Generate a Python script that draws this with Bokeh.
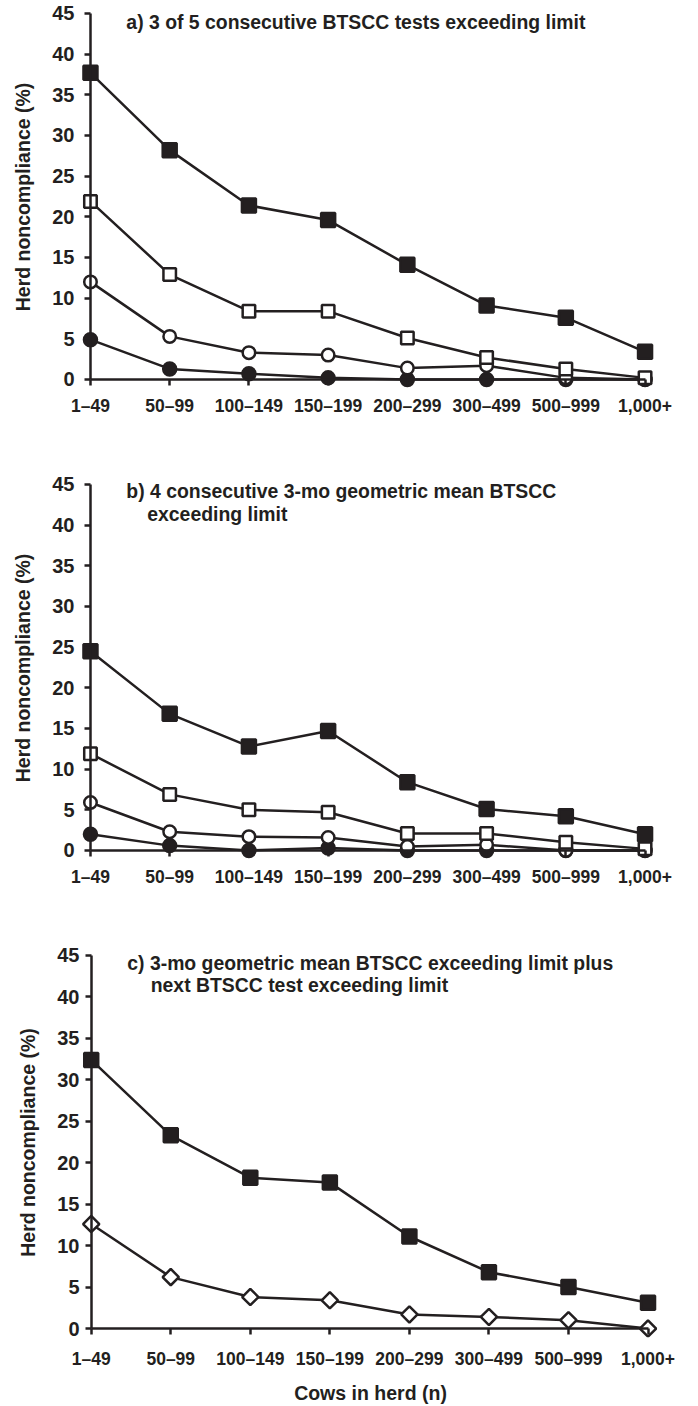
import numpy as np
from bokeh.plotting import figure
from bokeh.layouts import column
from bokeh.models import Range1d, FixedTicker, Label, LinearAxis
from bokeh.embed import file_html
from bokeh.resources import INLINE

categories = ["1\u201349", "50\u201399", "100\u2013149", "150\u2013199",
              "200\u2013299", "300\u2013499", "500\u2013999", "1,000+"]
y_ticks = [0, 5, 10, 15, 20, 25, 30, 35, 40, 45]

# Panel a: 3 of 5 consecutive BTSCC tests exceeding limit
a_filled_square = [37.7, 28.2, 21.4, 19.6, 14.1, 9.1, 7.6, 3.4]
a_open_square = [21.9, 12.9, 8.4, 8.4, 5.1, 2.7, 1.3, 0.2]
a_open_circle = [12.0, 5.3, 3.3, 3.0, 1.4, 1.7, 0.2, 0.0]
a_filled_circle = [4.9, 1.3, 0.7, 0.2, 0.0, 0.0, 0.0, 0.0]

# Panel b: 4 consecutive 3-mo geometric mean BTSCC exceeding limit
b_filled_square = [24.5, 16.8, 12.8, 14.7, 8.4, 5.1, 4.2, 2.0]
b_open_square = [11.9, 6.9, 5.0, 4.7, 2.1, 2.1, 1.0, 0.2]
b_open_circle = [5.9, 2.3, 1.7, 1.6, 0.5, 0.7, 0.0, 0.0]
b_filled_circle = [2.0, 0.6, 0.0, 0.3, 0.0, 0.0, 0.0, 0.0]

# Panel c: 3-mo geometric mean BTSCC exceeding limit plus next test exceeding limit
c_filled_square = [32.4, 23.3, 18.2, 17.6, 11.1, 6.8, 5.0, 3.1]
c_open_diamond = [12.6, 6.2, 3.8, 3.4, 1.7, 1.4, 1.0, 0.0]

titles_a = ["a) 3 of 5 consecutive BTSCC tests exceeding limit"]
titles_b = ["b) 4 consecutive 3-mo geometric mean BTSCC", "exceeding limit"]
titles_c = ["c) 3-mo geometric mean BTSCC exceeding limit plus",
            "next BTSCC test exceeding limit"]

INK = "#231f20"
FONT = "Liberation Sans"
xs = list(range(len(categories)))


def make_panel(height, xr, yr, borders, xstand, ystand, xlabel=None):
    left, right, top, bottom = borders
    p = figure(width=698, height=height, x_range=Range1d(*xr), y_range=Range1d(*yr),
               output_backend="svg", toolbar_location=None,
               min_border_left=left, min_border_right=right,
               min_border_top=top, min_border_bottom=bottom)
    p.grid.visible = False
    p.outline_line_color = None
    p.background_fill_color = "white"
    p.border_fill_color = "white"

    # label-only axes in the side panels
    xa = p.xaxis[0]
    xa.ticker = FixedTicker(ticks=xs)
    xa.bounds = (0, len(categories) - 1)
    xa.major_label_overrides = {i: c for i, c in enumerate(categories)}
    xa.axis_line_color = None
    xa.major_tick_line_color = None
    xa.minor_tick_line_color = None
    xa.major_tick_in = 0
    xa.major_tick_out = 0
    xa.major_label_text_font = FONT
    xa.major_label_text_font_style = "bold"
    xa.major_label_text_font_size = "17.5px"
    xa.major_label_text_color = INK
    xa.major_label_standoff = xstand
    if xlabel:
        xa.axis_label = xlabel
        xa.axis_label_text_font = FONT
        xa.axis_label_text_font_style = "bold"
        xa.axis_label_text_font_size = "19.5px"
        xa.axis_label_text_color = INK
        xa.axis_label_standoff = 10

    ya = p.yaxis[0]
    ya.ticker = FixedTicker(ticks=y_ticks)
    ya.bounds = (0, 45)
    ya.axis_line_color = None
    ya.major_tick_line_color = None
    ya.minor_tick_line_color = None
    ya.major_tick_in = 0
    ya.major_tick_out = 0
    ya.major_label_text_font = FONT
    ya.major_label_text_font_style = "bold"
    ya.major_label_text_font_size = "20px"
    ya.major_label_text_color = INK
    ya.major_label_standoff = ystand
    ya.axis_label = "Herd noncompliance (%)"
    ya.axis_label_text_font = FONT
    ya.axis_label_text_font_style = "bold"
    ya.axis_label_text_font_size = "19.5px"
    ya.axis_label_text_color = INK
    ya.axis_label_standoff = 15

    # axis lines and ticks placed at the data origin
    xl = LinearAxis(fixed_location=0, ticker=FixedTicker(ticks=xs),
                    bounds=(0, len(categories) - 1),
                    axis_line_width=2.5, axis_line_color=INK,
                    major_tick_in=0, major_tick_out=6, major_tick_line_width=2.5,
                    major_tick_line_color=INK, minor_tick_line_color=None,
                    major_label_text_color=None, major_label_text_font_size="1px")
    yl = LinearAxis(fixed_location=0, ticker=FixedTicker(ticks=y_ticks), bounds=(0, 45),
                    axis_line_width=2.5, axis_line_color=INK,
                    major_tick_in=0, major_tick_out=6, major_tick_line_width=2.5,
                    major_tick_line_color=INK, minor_tick_line_color=None,
                    major_label_text_color=None, major_label_text_font_size="1px")
    p.add_layout(xl, "below")
    p.add_layout(yl, "left")
    return p


def series(p, ys, marker, fill, size, angle=0.0):
    p.line(xs, ys, line_color=INK, line_width=2.5)
    p.scatter(xs, ys, marker=marker, size=size, fill_color=fill,
              line_color=INK, line_width=2.5, angle=angle)


def add_title(p, lines, x0, x1, y0, y1):
    pos = [(x0, y0), (x1, y1)]
    for (tx, ty), t in zip(pos, lines):
        p.add_layout(Label(x=tx, y=ty, text=t, text_font=FONT, text_font_style="bold",
                           text_font_size="19.4px", text_color=INK,
                           text_baseline="alphabetic", text_align="left"))


# ---- panel a
pa = make_panel(440, (-0.1258, 7.195), (-1.1066, 45.9836), (78, 38, 5, 52),
                xstand=7, ystand=6)
series(pa, a_filled_circle, "circle", INK, 13)
series(pa, a_open_circle, "circle", "white", 12.5)
series(pa, a_open_square, "square", "white", 12.5)
series(pa, a_filled_square, "square", INK, 14)
add_title(pa, titles_a, 0.453, 0.72, 43.9, 41.2)

# ---- panel b
pb = make_panel(460, (-0.1258, 7.195), (-1.1066, 45.9836), (78, 38, 36, 41),
                xstand=7, ystand=6)
series(pb, b_filled_circle, "circle", INK, 13)
series(pb, b_open_circle, "circle", "white", 12.5)
series(pb, b_open_square, "square", "white", 12.5)
series(pb, b_filled_square, "square", INK, 14)
add_title(pb, titles_b, 0.453, 0.717, 44.14, 41.43)

# ---- panel c
pc = make_panel(506, (-0.1348, 7.1569), (-1.0829, 45.9626), (80, 23, 47, 68),
                xstand=11, ystand=1, xlabel="Cows in herd (n)")
series(pc, c_open_diamond, "square", "white", 11.5, angle=np.pi / 4)
series(pc, c_filled_square, "square", INK, 14)
add_title(pc, titles_c, 0.453, 0.748, 44.04, 41.39)

layout = column(pa, pb, pc, spacing=0)
open("out.html", "w").write(file_html(layout, INLINE))
